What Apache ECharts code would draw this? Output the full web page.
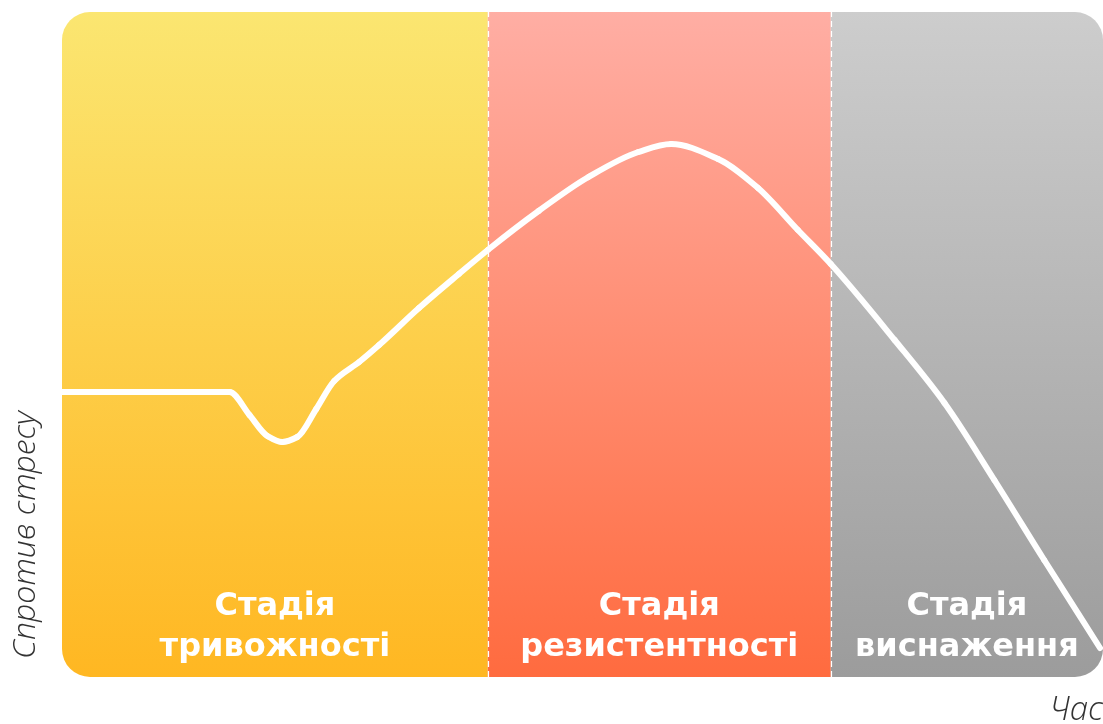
<!DOCTYPE html>
<html>
<head>
<meta charset="utf-8">
<script src="https://cdn.jsdelivr.net/npm/echarts@6/dist/echarts.min.js"></script>
<style>html,body{margin:0;padding:0;background:#fff;}#c{width:1103px;height:724px;}</style>
</head>
<body>
<div id="c"></div>
<script>
// Curve: time (x) vs resistance to stress (y)
const curveX = [0,168,188,206,221,236,255,273,298,318,358,398,427,478,528,578,611,658,698,738,771,835,885,935,985,1041];
const curveY = [285,285,262,241,235,240,268,296,315,332,369,403,427,466,500,525,533,518,489,447,413,337,274,197,117,29];
// Stages: start, end on the time axis
const stageNames = ['Стадія\nтривожності', 'Стадія\nрезистентності', 'Стадія\nвиснаження'];
const stageStart = [0, 427, 771];
const stageEnd = [427, 771, 1044];
const stageTop = ['#FBE671', '#FFAEA4', '#CDCDCD'];
const stageBottom = ['#FFB722', '#FF6B3F', '#9C9C9C'];
const boundaries = [427, 771];
const xMax = 1044, yMax = 665;
const yAxisName = 'Спротив стресу';
const xAxisName = 'Час';

const chart = echarts.init(document.getElementById('c'));
const stageData = stageNames.map((n, i) => [stageStart[i], stageEnd[i], i]);
const curveData = curveX.map((x, i) => [x, curveY[i], i]);
const radius = 28;

// monotone (Fritsch–Butland) tangent at point i of the projected curve
function slopeAt(pts, i) {
  const n = pts.length;
  if (i === 0) return (pts[1][1] - pts[0][1]) / (pts[1][0] - pts[0][0]);
  if (i === n - 1) return (pts[n - 1][1] - pts[n - 2][1]) / (pts[n - 1][0] - pts[n - 2][0]);
  const h0 = pts[i][0] - pts[i - 1][0], h1 = pts[i + 1][0] - pts[i][0];
  const d0 = (pts[i][1] - pts[i - 1][1]) / h0, d1 = (pts[i + 1][1] - pts[i][1]) / h1;
  if (d0 * d1 <= 0) return 0;
  return 3 * (h0 + h1) / ((2 * h1 + h0) / d0 + (h1 + 2 * h0) / d1);
}

chart.setOption({
  animation: false,
  grid: {left: 62, top: 12, width: 1044, height: 665},
  xAxis: {type: 'value', min: 0, max: xMax, show: false},
  yAxis: {type: 'value', min: 0, max: yMax, show: false},
  graphic: [
    {type: 'text', x: 26, y: 535, rotation: Math.PI / 2,
     style: {text: yAxisName, font: 'italic 300 32px "Open Sans"', fill: '#333', align: 'center', verticalAlign: 'middle'}},
    {type: 'text', x: 1103, y: 711,
     style: {text: xAxisName, font: 'italic 300 33px "Open Sans"', fill: '#333', align: 'right', verticalAlign: 'middle'}}
  ],
  series: [
    {
      type: 'custom',
      data: stageData,
      z: 1,
      renderItem: function (params, api) {
        const i = api.value(2);
        const p0 = api.coord([api.value(0), yMax]);
        const p1 = api.coord([api.value(1), 0]);
        let r = [0, 0, 0, 0];
        if (i === 0) r = [radius, 0, 0, radius];
        if (i === stageNames.length - 1) r = [0, radius, radius, 0];
        return {
          type: 'group',
          children: [
            {type: 'rect', shape: {x: p0[0], y: p0[1], width: p1[0] - p0[0], height: p1[1] - p0[1], r: r},
             style: {fill: new echarts.graphic.LinearGradient(0, 0, 0, 1, [
               {offset: 0, color: stageTop[i]}, {offset: 1, color: stageBottom[i]}])}},
            {type: 'text', x: (p0[0] + p1[0]) / 2, y: 627,
             style: {text: stageNames[i], font: 'bold 32px "DejaVu Sans"', fill: '#fff', align: 'center', verticalAlign: 'middle', lineHeight: 41}}
          ]
        };
      }
    },
    {
      type: 'custom',
      data: curveData,
      z: 3,
      clip: true,
      renderItem: function (params, api) {
        const i = api.value(2);
        if (i >= curveX.length - 1) return null;
        const pts = curveX.map((x, k) => api.coord([x, curveY[k]]));
        const a = pts[i], b = pts[i + 1];
        const h = b[0] - a[0];
        const ma = slopeAt(pts, i), mb = slopeAt(pts, i + 1);
        const c1 = [a[0] + h / 3, a[1] + ma * h / 3];
        const c2 = [b[0] - h / 3, b[1] - mb * h / 3];
        return {
          type: 'path',
          shape: {pathData: 'M' + a[0] + ' ' + a[1] + ' C' + c1[0] + ' ' + c1[1] + ' ' + c2[0] + ' ' + c2[1] + ' ' + b[0] + ' ' + b[1]},
          style: {fill: null, stroke: '#fff', lineWidth: 6, lineCap: 'round'}
        };
      }
    },
    {
      type: 'line',
      data: [],
      markLine: {
        silent: true,
        symbol: 'none',
        label: {show: false},
        lineStyle: {color: '#fff', type: [6, 4], width: 1.2},
        data: boundaries.map(b => ({xAxis: b}))
      }
    }
  ]
});
</script>
</body>
</html>
